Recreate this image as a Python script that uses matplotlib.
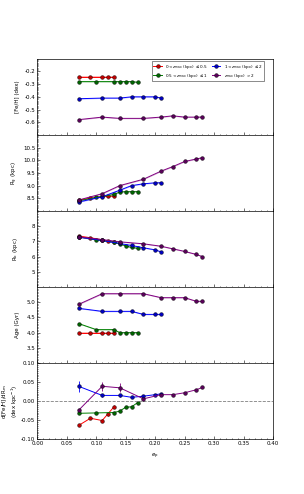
import numpy as np
import matplotlib
matplotlib.use("Agg")
import matplotlib.pyplot as plt
from matplotlib.ticker import AutoMinorLocator, MultipleLocator

# eccentricity bins for each z_max group
ep_red = [0.07, 0.09, 0.11, 0.12, 0.13]
ep_green = [0.07, 0.10, 0.13, 0.14, 0.15, 0.16, 0.17]
ep_blue = [0.07, 0.11, 0.14, 0.16, 0.18, 0.20, 0.21]
ep_purple = [0.07, 0.11, 0.14, 0.18, 0.21, 0.23, 0.25, 0.27, 0.28]

feh_red = [-0.24, -0.24, -0.24, -0.24, -0.24]
feh_green = [-0.28, -0.28, -0.28, -0.28, -0.28, -0.28, -0.285]
feh_blue = [-0.415, -0.41, -0.41, -0.40, -0.40, -0.40, -0.41]
feh_purple = [-0.58, -0.56, -0.57, -0.57, -0.56, -0.55, -0.56, -0.56, -0.56]

rg_red = [8.43, 8.50, 8.57, 8.58, 8.58]
rg_green = [8.40, 8.53, 8.65, 8.75, 8.76, 8.76, 8.76]
rg_blue = [8.35, 8.56, 8.82, 9.00, 9.07, 9.11, 9.11]
rg_purple = [8.43, 8.68, 9.00, 9.25, 9.57, 9.75, 9.95, 10.05, 10.10]

rb_red = [7.35, 7.24, 7.10, 7.03, 6.95]
rb_green = [7.30, 7.10, 6.95, 6.84, 6.70, 6.60, 6.55]
rb_blue = [7.28, 7.06, 6.86, 6.73, 6.58, 6.44, 6.31]
rb_purple = [7.30, 7.12, 6.97, 6.84, 6.68, 6.51, 6.34, 6.14, 6.00]

age_red = [4.0, 4.0, 4.0, 4.0, 4.0]
age_green = [4.3, 4.1, 4.1, 4.0, 4.0, 4.0, 4.0]
age_blue = [4.8, 4.7, 4.7, 4.7, 4.6, 4.6, 4.6]
age_purple = [4.93, 5.28, 5.28, 5.28, 5.15, 5.15, 5.15, 5.03, 5.03]

grad_red = [-0.064, -0.045, -0.051, -0.033, -0.015]
grad_green = [-0.032, -0.031, -0.030, -0.026, -0.016, -0.015, -0.004]
grad_blue = [0.039, 0.015, 0.015, 0.010, 0.013, 0.017, 0.019]
grad_purple = [-0.024, 0.039, 0.035, 0.006, 0.017, 0.017, 0.022, 0.030, 0.036]
gerr_red = [0.002, 0.002, 0.003, 0.005, 0.004]
gerr_green = [0.003, 0.002, 0.002, 0.002, 0.002, 0.002, 0.003]
gerr_blue = [0.015, 0.003, 0.003, 0.002, 0.002, 0.002, 0.002]
gerr_purple = [0.004, 0.012, 0.012, 0.006, 0.003, 0.002, 0.002, 0.002, 0.002]

labels = [r"$0 < z_{\rm max}$ (kpc) $\leq 0.5$", r"$0.5 < z_{\rm max}$ (kpc) $\leq 1$",
          r"$1 < z_{\rm max}$ (kpc) $\leq 2$", r"$z_{\rm max}$ (kpc) $> 2$"]
colors = ["red", "green", "blue", "purple"]
mfc = ["#c00000", "#006400", "#0000c0", "#5a005a"]

eps = [ep_red, ep_green, ep_blue, ep_purple]
panels = [
    ([feh_red, feh_green, feh_blue, feh_purple], "[Fe/H] (dex)", (-0.7, -0.1), [-0.6, -0.5, -0.4, -0.3, -0.2]),
    ([rg_red, rg_green, rg_blue, rg_purple], r"R$_{\rm g}$ (kpc)", (8.0, 11.0), [8.5, 9.0, 9.5, 10.0, 10.5]),
    ([rb_red, rb_green, rb_blue, rb_purple], r"R$_{\rm b}$ (kpc)", (4.0, 9.0), [5, 6, 7, 8]),
    ([age_red, age_green, age_blue, age_purple], "Age (Gyr)", (3.0, 5.5), [3.5, 4.0, 4.5, 5.0]),
]
grads = [grad_red, grad_green, grad_blue, grad_purple]
gerrs = [gerr_red, gerr_green, gerr_blue, gerr_purple]

plt.rcParams['font.size'] = 4
fig, axes = plt.subplots(5, 1, figsize=(3.04, 4.94), dpi=100, sharex=True)
fig.subplots_adjust(left=0.123, right=0.898, top=0.881, bottom=0.111, hspace=0)

for ax, (vals, ylab, ylim, yt) in zip(axes[:4], panels):
    for i in range(4):
        ax.plot(eps[i], vals[i], '-o', color=colors[i], lw=0.7, ms=2.7,
                mfc=mfc[i], mec='black', mew=0.3, label=labels[i])
        ax.fill_between(eps[i], np.array(vals[i]) - 0.005 * (ylim[1] - ylim[0]),
                        np.array(vals[i]) + 0.005 * (ylim[1] - ylim[0]),
                        color=colors[i], alpha=0.3, lw=0)
    ax.set_ylim(*ylim)
    ax.set_yticks(yt)
    ax.set_ylabel(ylab, fontsize=4)

ax = axes[4]
for i in range(4):
    ax.errorbar(eps[i], grads[i], yerr=gerrs[i], fmt='-o', color=colors[i], lw=0.7,
                ms=2.7, mfc=mfc[i], mec='black', mew=0.3, elinewidth=0.6, capsize=0)
ax.axhline(0, color='gray', ls='--', lw=0.6)
ax.set_ylim(-0.1, 0.1)
ax.set_yticks([-0.10, -0.05, 0.00, 0.05, 0.10])
ax.set_ylabel("d[Fe/H]/dR$_{\\rm m}$\n(dex kpc$^{-1}$)", fontsize=4, linespacing=1.1)

ax.set_xlim(0, 0.4)
ax.xaxis.set_major_locator(MultipleLocator(0.05))
ax.xaxis.set_minor_locator(MultipleLocator(0.01))
ax.set_xlabel(r"$e_{\rm p}$", fontsize=4)

for a in axes:
    a.yaxis.set_minor_locator(AutoMinorLocator(10))
    a.tick_params(which='both', direction='in', labelsize=4, width=0.4, pad=1.5)
    a.tick_params(which='major', length=2)
    a.tick_params(which='minor', length=1)
    a.yaxis.set_label_coords(-0.075, 0.5)
    for s in a.spines.values():
        s.set_linewidth(0.5)
axes[0].yaxis.set_major_formatter(plt.FormatStrFormatter('%.1f'))
axes[4].yaxis.set_major_formatter(plt.FormatStrFormatter('%.2f'))
axes[4].xaxis.set_major_formatter(plt.FormatStrFormatter('%.2f'))

axes[0].legend(ncol=2, fontsize=3, loc='upper right', frameon=True, fancybox=False,
               edgecolor='black', handlelength=2, columnspacing=1, borderpad=0.4,
               labelspacing=0.3, bbox_to_anchor=(0.97, 1.0)).get_frame().set_linewidth(0.4)

fig.savefig("out.png", dpi=100)
